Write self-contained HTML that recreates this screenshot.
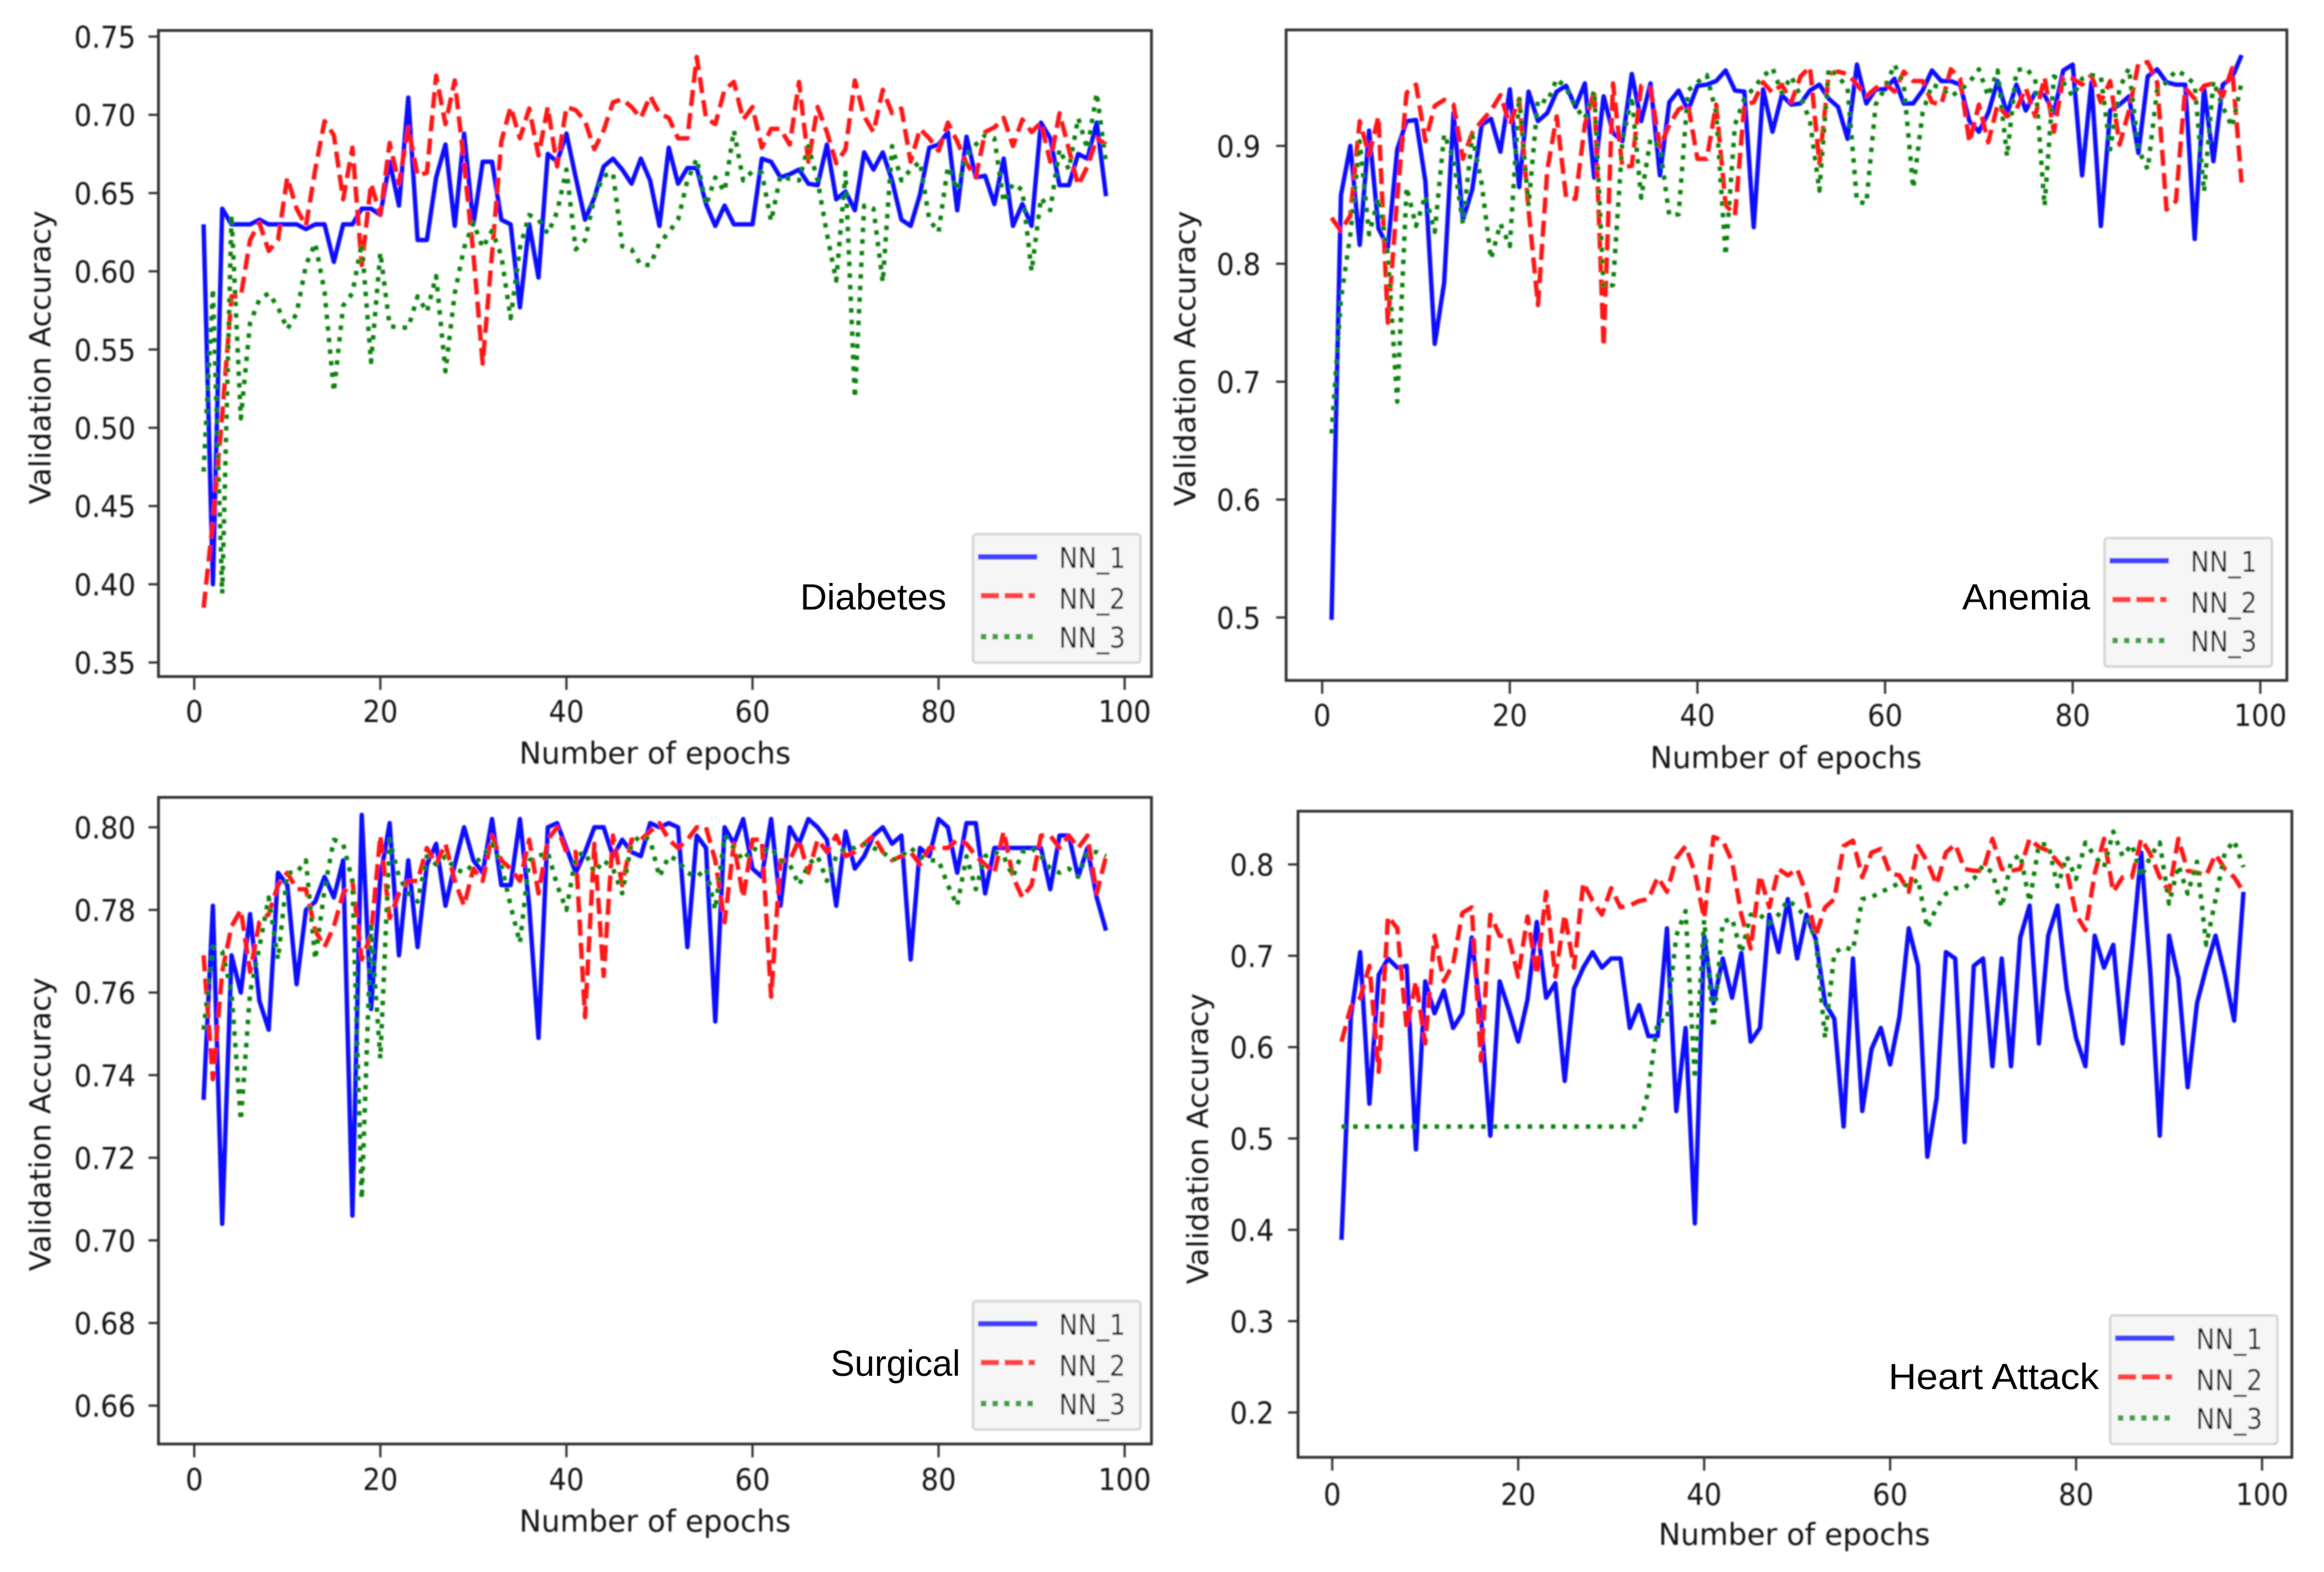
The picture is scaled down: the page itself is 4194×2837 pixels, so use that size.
<!DOCTYPE html>
<html lang="en">
<head>
<meta charset="utf-8">
<title>Validation accuracy per epoch</title>
<style>
html,body{margin:0;padding:0;background:#fff;}
svg{display:block;}
.mpl{font-family:"DejaVu Sans",sans-serif;fill:#141414;}
.note{font-family:"Liberation Sans",sans-serif;font-size:66px;fill:#000;}
</style>
</head>
<body>
<svg xmlns="http://www.w3.org/2000/svg" width="4194" height="2837" viewBox="0 0 4194 2837">
<defs>
<filter id="soft" filterUnits="userSpaceOnUse" x="0" y="0" width="4194" height="2837"><feGaussianBlur stdDeviation="1.2"/></filter>
</defs>
<rect width="4194" height="2837" fill="#fff"/>
<g filter="url(#soft)" class="mpl">

<g>
<g id="marks-diabetes"></g>
<rect x="286" y="55" width="1792" height="1166" fill="none" stroke="#333" stroke-width="5"/>
<text transform="translate(1182,1378) scale(1,1.13)" font-size="48" text-anchor="middle" textLength="490" lengthAdjust="spacingAndGlyphs">Number of epochs</text>
<text transform="translate(91,645) rotate(-90) scale(1,1.05)" font-size="50" text-anchor="middle" textLength="530" lengthAdjust="spacingAndGlyphs">Validation Accuracy</text>
<g transform="translate(1756,964)">
<rect x="0" y="0" width="302" height="232" rx="6" fill="#f6f6f6" stroke="#d5d5d5" stroke-width="4.5"/>
<line x1="9" y1="41" x2="116" y2="41" stroke="#4040ff" stroke-width="10"/>
<line x1="14" y1="111" x2="112" y2="111" stroke="#ff4040" stroke-width="10" stroke-dasharray="33 10"/>
<line x1="14" y1="185" x2="112" y2="185" stroke="#40a040" stroke-width="10" stroke-dasharray="10 11"/>
<text transform="translate(155,61) scale(1,1.18)" font-size="44" textLength="120" lengthAdjust="spacingAndGlyphs">NN_1</text>
<text transform="translate(155,135) scale(1,1.18)" font-size="44" textLength="120" lengthAdjust="spacingAndGlyphs">NN_2</text>
<text transform="translate(155,205) scale(1,1.18)" font-size="44" textLength="120" lengthAdjust="spacingAndGlyphs">NN_3</text>
</g>
</g>

<g>
<g id="marks-anemia"></g>
<rect x="2321" y="54" width="1806" height="1174" fill="none" stroke="#333" stroke-width="5"/>
<text transform="translate(3223,1386) scale(1,1.13)" font-size="48" text-anchor="middle" textLength="490" lengthAdjust="spacingAndGlyphs">Number of epochs</text>
<text transform="translate(2157,647) rotate(-90) scale(1,1.05)" font-size="50" text-anchor="middle" textLength="533" lengthAdjust="spacingAndGlyphs">Validation Accuracy</text>
<g transform="translate(3798,971)">
<rect x="0" y="0" width="302" height="232" rx="6" fill="#f6f6f6" stroke="#d5d5d5" stroke-width="4.5"/>
<line x1="9" y1="41" x2="116" y2="41" stroke="#4040ff" stroke-width="10"/>
<line x1="14" y1="111" x2="112" y2="111" stroke="#ff4040" stroke-width="10" stroke-dasharray="33 10"/>
<line x1="14" y1="185" x2="112" y2="185" stroke="#40a040" stroke-width="10" stroke-dasharray="10 11"/>
<text transform="translate(155,61) scale(1,1.18)" font-size="44" textLength="120" lengthAdjust="spacingAndGlyphs">NN_1</text>
<text transform="translate(155,135) scale(1,1.18)" font-size="44" textLength="120" lengthAdjust="spacingAndGlyphs">NN_2</text>
<text transform="translate(155,205) scale(1,1.18)" font-size="44" textLength="120" lengthAdjust="spacingAndGlyphs">NN_3</text>
</g>
</g>

<g>
<g id="marks-surgical"></g>
<rect x="286" y="1439" width="1792" height="1167" fill="none" stroke="#333" stroke-width="5"/>
<text transform="translate(1182,2764) scale(1,1.13)" font-size="48" text-anchor="middle" textLength="490" lengthAdjust="spacingAndGlyphs">Number of epochs</text>
<text transform="translate(91,2029) rotate(-90) scale(1,1.05)" font-size="50" text-anchor="middle" textLength="530" lengthAdjust="spacingAndGlyphs">Validation Accuracy</text>
<g transform="translate(1756,2348)">
<rect x="0" y="0" width="302" height="232" rx="6" fill="#f6f6f6" stroke="#d5d5d5" stroke-width="4.5"/>
<line x1="9" y1="41" x2="116" y2="41" stroke="#4040ff" stroke-width="10"/>
<line x1="14" y1="111" x2="112" y2="111" stroke="#ff4040" stroke-width="10" stroke-dasharray="33 10"/>
<line x1="14" y1="185" x2="112" y2="185" stroke="#40a040" stroke-width="10" stroke-dasharray="10 11"/>
<text transform="translate(155,61) scale(1,1.18)" font-size="44" textLength="120" lengthAdjust="spacingAndGlyphs">NN_1</text>
<text transform="translate(155,135) scale(1,1.18)" font-size="44" textLength="120" lengthAdjust="spacingAndGlyphs">NN_2</text>
<text transform="translate(155,205) scale(1,1.18)" font-size="44" textLength="120" lengthAdjust="spacingAndGlyphs">NN_3</text>
</g>
</g>

<g>
<g id="marks-heart"></g>
<rect x="2342.5" y="1464" width="1793.5" height="1166" fill="none" stroke="#333" stroke-width="5"/>
<text transform="translate(3238,2788) scale(1,1.13)" font-size="48" text-anchor="middle" textLength="490" lengthAdjust="spacingAndGlyphs">Number of epochs</text>
<text transform="translate(2180,2055) rotate(-90) scale(1,1.05)" font-size="50" text-anchor="middle" textLength="525" lengthAdjust="spacingAndGlyphs">Validation Accuracy</text>
<g transform="translate(3808,2374)">
<rect x="0" y="0" width="302" height="232" rx="6" fill="#f6f6f6" stroke="#d5d5d5" stroke-width="4.5"/>
<line x1="9" y1="41" x2="116" y2="41" stroke="#4040ff" stroke-width="10"/>
<line x1="14" y1="111" x2="112" y2="111" stroke="#ff4040" stroke-width="10" stroke-dasharray="33 10"/>
<line x1="14" y1="185" x2="112" y2="185" stroke="#40a040" stroke-width="10" stroke-dasharray="10 11"/>
<text transform="translate(155,61) scale(1,1.18)" font-size="44" textLength="120" lengthAdjust="spacingAndGlyphs">NN_1</text>
<text transform="translate(155,135) scale(1,1.18)" font-size="44" textLength="120" lengthAdjust="spacingAndGlyphs">NN_2</text>
<text transform="translate(155,205) scale(1,1.18)" font-size="44" textLength="120" lengthAdjust="spacingAndGlyphs">NN_3</text>
</g>
</g>
</g>

<text class="note" x="1444" y="1100" textLength="264" lengthAdjust="spacingAndGlyphs">Diabetes</text>
<text class="note" x="3541" y="1100" textLength="231" lengthAdjust="spacingAndGlyphs">Anemia</text>
<text class="note" x="1499" y="2483" textLength="234" lengthAdjust="spacingAndGlyphs">Surgical</text>
<text class="note" x="3408" y="2507" textLength="380" lengthAdjust="spacingAndGlyphs">Heart Attack</text>
</svg>

<script>
const xTickValues = [0, 20, 40, 60, 80, 100];

const diabetesTicks = ["0.35","0.40","0.45","0.50","0.55","0.60","0.65","0.70","0.75"];
const anemiaTicks = ["0.5","0.6","0.7","0.8","0.9"];
const surgicalTicks = ["0.66","0.68","0.70","0.72","0.74","0.76","0.78","0.80"];
const heartTicks = ["0.2","0.3","0.4","0.5","0.6","0.7","0.8"];

const diabetesNN1 = [.63,.40,.64,.63,.63,.63,.633,.63,.63,.63,
.63,.627,.63,.63,.606,.63,.63,.64,.64,.636,
.67,.642,.711,.62,.62,.66,.681,.629,.688,.63,
.67,.67,.633,.63,.577,.63,.596,.675,.67,.688,
.66,.633,.647,.667,.672,.665,.656,.672,.658,.629,
.679,.656,.666,.666,.643,.629,.642,.63,.63,.63,
.672,.67,.66,.662,.665,.656,.655,.681,.646,.651,
.639,.676,.665,.676,.658,.633,.629,.649,.679,.681,
.689,.639,.686,.66,.661,.643,.672,.629,.643,.629,
.695,.685,.655,.655,.675,.672,.695,.648];
const diabetesNN2 = [.385,.44,.508,.584,.584,.62,.631,.613,.62,.66,
.64,.629,.665,.696,.687,.646,.679,.604,.656,.636,
.682,.656,.692,.661,.663,.725,.694,.722,.669,.611,
.541,.611,.683,.705,.685,.704,.674,.705,.667,.705,
.703,.696,.678,.69,.708,.71,.705,.698,.712,.701,
.698,.685,.685,.737,.698,.694,.716,.721,.697,.705,
.679,.691,.691,.681,.721,.67,.705,.689,.669,.678,
.722,.699,.689,.716,.701,.704,.67,.691,.685,.677,
.695,.683,.669,.66,.689,.692,.698,.68,.697,.689,
.695,.67,.701,.678,.655,.667,.685,.681];
const diabetesNN3 = [.472,.589,.394,.636,.506,.567,.582,.586,.577,.563,
.573,.604,.618,.587,.523,.578,.586,.618,.542,.612,
.565,.564,.564,.584,.574,.597,.536,.586,.615,.631,
.615,.626,.61,.57,.615,.636,.633,.624,.638,.665,
.614,.62,.647,.661,.663,.616,.614,.604,.604,.618,
.625,.633,.658,.672,.642,.66,.651,.69,.658,.664,
.663,.632,.661,.659,.658,.68,.658,.624,.594,.663,
.519,.642,.64,.593,.68,.658,.665,.67,.633,.625,
.667,.652,.674,.681,.687,.685,.644,.656,.652,.6,
.647,.639,.678,.665,.698,.678,.714,.669];

const anemiaNN1 = [.498,.858,.90,.816,.913,.83,.814,.897,.921,.922,
.87,.732,.784,.928,.837,.863,.918,.923,.895,.948,
.865,.946,.921,.928,.946,.951,.933,.953,.873,.942,
.911,.904,.961,.921,.953,.875,.937,.947,.93,.951,
.952,.955,.964,.947,.946,.831,.948,.912,.943,.935,
.936,.947,.952,.94,.933,.906,.969,.936,.948,.948,
.957,.936,.936,.947,.964,.955,.955,.952,.921,.912,
.928,.955,.927,.952,.93,.945,.943,.928,.964,.969,
.875,.954,.832,.93,.935,.942,.894,.959,.965,.954,
.952,.952,.821,.949,.887,.952,.958,.977];
const anemiaNN2 = [.839,.828,.841,.921,.892,.925,.75,.856,.945,.952,
.904,.934,.939,.935,.889,.911,.921,.93,.943,.918,
.94,.846,.765,.88,.925,.856,.855,.918,.947,.73,
.953,.882,.883,.951,.949,.899,.918,.931,.935,.889,
.889,.935,.85,.841,.935,.937,.954,.945,.952,.937,
.959,.967,.885,.961,.963,.961,.952,.942,.949,.953,
.946,.963,.955,.955,.937,.935,.965,.957,.903,.935,
.903,.935,.925,.931,.949,.925,.958,.912,.958,.957,
.952,.96,.937,.955,.901,.93,.97,.971,.954,.846,
.853,.949,.94,.951,.953,.942,.966,.869];
const anemiaNN3 = [.656,.77,.825,.904,.825,.856,.808,.683,.865,.832,
.858,.827,.91,.889,.834,.909,.868,.804,.834,.815,
.942,.849,.94,.937,.957,.949,.933,.923,.947,.78,
.782,.904,.942,.856,.906,.899,.841,.842,.947,.954,
.96,.928,.807,.918,.94,.949,.959,.966,.945,.959,
.942,.921,.862,.966,.959,.949,.853,.851,.935,.949,
.969,.952,.864,.928,.952,.949,.942,.947,.954,.965,
.942,.964,.891,.964,.966,.957,.849,.959,.954,.942,
.957,.96,.959,.897,.949,.966,.897,.88,.947,.954,
.964,.96,.952,.861,.955,.933,.916,.954];

const surgicalNN1 = [.734,.781,.704,.769,.76,.779,.758,.751,.789,.786,
.762,.78,.782,.788,.783,.792,.706,.803,.756,.788,
.801,.769,.792,.771,.791,.796,.781,.791,.8,.792,
.789,.802,.786,.786,.802,.781,.749,.8,.801,.795,
.789,.794,.8,.8,.793,.797,.794,.793,.801,.8,
.801,.8,.771,.798,.795,.753,.8,.796,.802,.79,
.788,.802,.781,.8,.796,.802,.8,.797,.781,.799,
.79,.793,.798,.8,.796,.798,.768,.795,.793,.802,
.8,.789,.801,.801,.784,.795,.795,.795,.795,.795,
.795,.785,.798,.798,.788,.795,.783,.775];
const surgicalNN2 = [.769,.739,.765,.776,.78,.765,.777,.779,.786,.789,
.785,.785,.775,.771,.776,.784,.787,.768,.774,.798,
.778,.784,.787,.787,.795,.791,.796,.787,.781,.79,
.787,.798,.792,.79,.787,.797,.784,.797,.8,.794,
.794,.754,.796,.764,.798,.786,.797,.797,.799,.801,
.797,.795,.797,.8,.8,.792,.777,.796,.783,.797,
.797,.759,.792,.792,.797,.789,.797,.794,.798,.793,
.794,.796,.798,.794,.792,.793,.794,.791,.795,.795,
.795,.797,.796,.793,.791,.789,.799,.788,.783,.786,
.798,.798,.795,.798,.795,.798,.784,.793];
const surgicalNN3 = [.751,.771,.77,.76,.729,.76,.771,.783,.768,.789,
.789,.792,.768,.785,.797,.796,.787,.71,.776,.744,
.797,.788,.784,.782,.793,.791,.793,.79,.789,.791,
.793,.796,.791,.781,.772,.792,.793,.794,.786,.78,
.793,.794,.789,.792,.79,.784,.796,.798,.797,.788,
.793,.792,.789,.788,.79,.78,.798,.795,.792,.795,
.794,.795,.792,.791,.786,.791,.793,.787,.793,.795,
.795,.796,.795,.794,.792,.793,.795,.793,.792,.792,
.786,.781,.793,.785,.793,.794,.793,.788,.794,.795,
.793,.79,.789,.79,.788,.794,.794,.793];

const heartNN1 = [.389,.633,.704,.538,.679,.697,.687,.689,.488,.672,
.637,.662,.621,.637,.72,.633,.503,.672,.641,.606,
.652,.737,.654,.67,.563,.664,.687,.704,.687,.697,
.697,.621,.646,.612,.612,.73,.53,.621,.407,.722,
.648,.697,.654,.703,.606,.621,.745,.704,.762,.697,
.745,.718,.648,.631,.513,.697,.53,.598,.621,.581,
.633,.73,.689,.48,.544,.704,.697,.496,.689,.697,
.579,.697,.579,.72,.755,.604,.722,.755,.664,.61,
.579,.722,.687,.712,.604,.703,.813,.679,.503,.722,
.675,.556,.648,.687,.722,.679,.629,.77];
const heartNN2 = [.606,.644,.654,.689,.573,.743,.73,.621,.672,.604,
.722,.672,.691,.747,.753,.585,.745,.722,.72,.677,
.743,.679,.77,.677,.745,.687,.78,.76,.745,.774,
.753,.755,.76,.762,.786,.77,.807,.82,.791,.741,
.83,.826,.803,.745,.708,.788,.753,.795,.788,.795,
.768,.722,.753,.762,.82,.826,.786,.813,.817,.79,
.788,.77,.82,.803,.778,.813,.822,.795,.793,.793,
.828,.795,.793,.795,.828,.819,.815,.803,.793,.745,
.728,.79,.828,.77,.786,.786,.828,.811,.786,.77,
.828,.793,.791,.788,.811,.795,.786,.77];
const heartNN3 = [.513,.513,.513,.513,.513,.513,.513,.513,.513,.513,
.513,.513,.513,.513,.513,.513,.513,.513,.513,.513,
.513,.513,.513,.513,.513,.513,.513,.513,.513,.513,
.513,.513,.513,.552,.629,.629,.722,.749,.565,.739,
.621,.737,.741,.703,.745,.745,.735,.745,.761,.753,
.741,.718,.61,.703,.71,.706,.762,.764,.77,.774,
.78,.776,.784,.73,.753,.768,.774,.774,.784,.799,
.791,.753,.803,.811,.759,.822,.822,.776,.809,.784,
.824,.809,.797,.836,.809,.822,.786,.809,.824,.757,
.799,.768,.803,.712,.762,.813,.826,.797];

const SVG_NS = 'http://www.w3.org/2000/svg';

function makeXAxis(xAtEpochOne, pxPerEpoch) {
  return function (epoch) { return xAtEpochOne + (epoch - 1) * pxPerEpoch; };
}
function makeYAxis(refValue, refPx, pxPerUnit) {
  return function (value) { return refPx + (refValue - value) * pxPerUnit; };
}

function drawSeries(group, values, xAxis, yAxis, color, dash) {
  const points = values.map(function (v, i) {
    return xAxis(i + 1).toFixed(1) + ',' + yAxis(v).toFixed(1);
  }).join(' ');
  const line = document.createElementNS(SVG_NS, 'polyline');
  
  
  line.setAttribute('points', points);
  line.setAttribute('fill', 'none');
  line.setAttribute('stroke', color);
  line.setAttribute('stroke-width', '8');
  line.setAttribute('stroke-linejoin', 'round');
  if (dash) line.setAttribute('stroke-dasharray', dash);
  group.appendChild(line);
}

function drawPanel(id, series, yTicks, xAxis, yAxis, frame) {
  const group = document.getElementById(id);
  xTickValues.forEach(function (t) {
    const px = xAxis(t);
    const tick = document.createElementNS(SVG_NS, 'line');
    
    
    tick.setAttribute('x1', px);
    tick.setAttribute('x2', px);
    tick.setAttribute('y1', frame.bottom);
    tick.setAttribute('y2', frame.bottom + 24);
    tick.setAttribute('stroke', '#333');
    tick.setAttribute('stroke-width', '4');
    group.appendChild(tick);
    const label = document.createElementNS(SVG_NS, 'text');
    
    
    label.setAttribute('transform', 'translate(' + px + ',' + frame.xLabelY + ') scale(1,1.09)');
    label.setAttribute('font-size', '50');
    label.setAttribute('text-anchor', 'middle');
    label.textContent = String(t);
    group.appendChild(label);
  });
  yTicks.forEach(function (t) {
    const py = yAxis(parseFloat(t));
    const tick = document.createElementNS(SVG_NS, 'line');
    
    
    tick.setAttribute('x1', frame.left - 18);
    tick.setAttribute('x2', frame.left);
    tick.setAttribute('y1', py);
    tick.setAttribute('y2', py);
    tick.setAttribute('stroke', '#333');
    tick.setAttribute('stroke-width', '4');
    group.appendChild(tick);
    const label = document.createElementNS(SVG_NS, 'text');
    
    
    label.setAttribute('transform', 'translate(' + frame.yLabelX + ',' + (py + 20) + ') scale(1,1.09)');
    label.setAttribute('font-size', '50');
    label.setAttribute('text-anchor', 'end');
    label.textContent = t;
    group.appendChild(label);
  });
  drawSeries(group, series[0], xAxis, yAxis, '#0c0cff', null);
  drawSeries(group, series[1], xAxis, yAxis, '#ff1414', '29 13');
  drawSeries(group, series[2], xAxis, yAxis, '#0a820a', '8 13');
}

drawPanel('marks-diabetes', [diabetesNN1, diabetesNN2, diabetesNN3], diabetesTicks,
  makeXAxis(367.4, 16.79), makeYAxis(0.75, 66, 2824),
  { left: 286, bottom: 1221, xLabelY: 1303, yLabelX: 245 });
drawPanel('marks-anemia', [anemiaNN1, anemiaNN2, anemiaNN3], anemiaTicks,
  makeXAxis(2403, 16.93), makeYAxis(0.9, 263.3, 2127.6),
  { left: 2321, bottom: 1228, xLabelY: 1310, yLabelX: 2275 });
drawPanel('marks-surgical', [surgicalNN1, surgicalNN2, surgicalNN3], surgicalTicks,
  makeXAxis(367.4, 16.79), makeYAxis(0.8, 1493, 7455),
  { left: 286, bottom: 2606, xLabelY: 2689, yLabelX: 245 });
drawPanel('marks-heart', [heartNN1, heartNN2, heartNN3], heartTicks,
  makeXAxis(2421, 16.78), makeYAxis(0.8, 1560, 1648.6),
  { left: 2342.5, bottom: 2630, xLabelY: 2716, yLabelX: 2299 });
</script>
</body>
</html>
